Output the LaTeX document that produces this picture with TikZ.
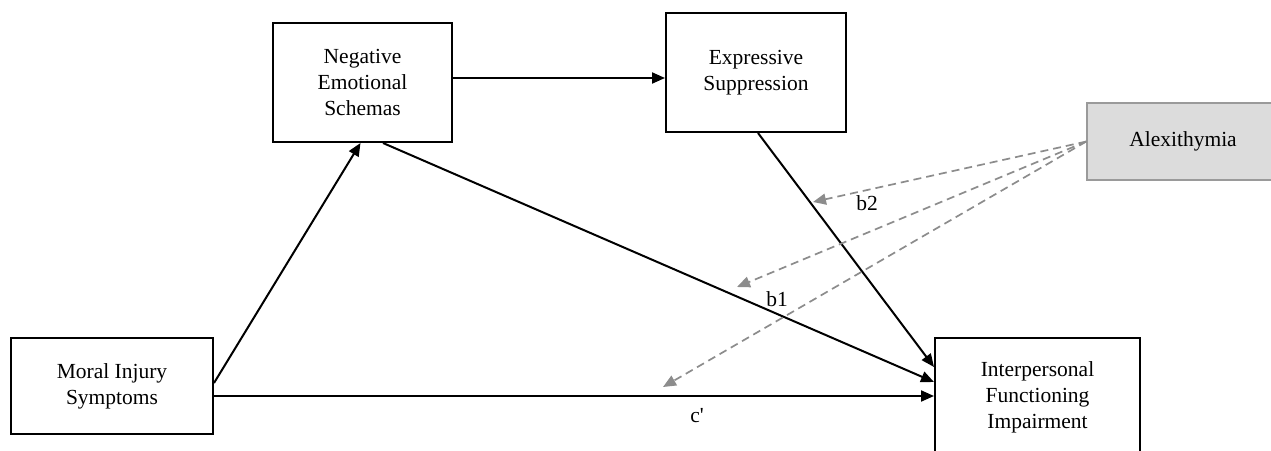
\documentclass[tikz,border=0pt]{standalone}
\usepackage{fontspec}
\setmainfont{Liberation Serif}
\usetikzlibrary{arrows.meta,calc}
\definecolor{altfill}{HTML}{DCDCDC}
\definecolor{altdraw}{HTML}{9A9A9A}
\definecolor{dashgray}{HTML}{8C8C8C}
\begin{document}
\begin{tikzpicture}[x=1pt,y=-1pt,
  box/.style={draw=black,line width=2pt,fill=white,inner sep=0pt,align=center,
    font=\fontsize{21.5}{26}\selectfont},
  arr/.style={line width=2pt,-{Triangle[length=13pt,width=11pt]}},
  modarr/.style={draw=dashgray,line width=1.7pt,dash pattern=on 8pt off 5pt,
    -{Triangle[length=13pt,width=11pt,fill=dashgray]}},
  lab/.style={font=\fontsize{21.5}{26}\selectfont,inner sep=0pt}]
\useasboundingbox (0,0) rectangle (1271,450);
\clip (0,0) rectangle (1271,450);
\node[box,minimum width=179pt,minimum height=119pt] (nes) at (362.5,82.5) {Negative\\Emotional\\Schemas};
\node[box,minimum width=180pt,minimum height=119pt] (es) at (756,72.5) {Expressive\\Suppression};
\node[box,minimum width=202pt,minimum height=96pt] (mi) at (112,386) {Moral Injury\\Symptoms};
\node[box,minimum width=205pt,minimum height=118pt] (ifi) at (1037.5,397) {Interpersonal\\Functioning\\Impairment};
\node[box,draw=altdraw,fill=altfill,line width=1.4pt,minimum width=192pt,minimum height=77pt] (alx) at (1183,141.5) {Alexithymia};
% solid paths
\draw[arr] (nes.east |- 0,78) -- (es.west |- 0,78);
\draw[arr] ($(mi.east)+(0,-3)$) -- ($(nes.south)+(-2,0)$);
\draw[arr] ($(nes.south)+(20.5,0)$) -- ($(ifi.west)+(0,-15)$);
\draw[arr] ($(es.south)+(2,0)$) -- ($(ifi.west)+(0,-30)$);
\draw[arr] ($(mi.east)+(0,10)$) -- ($(ifi.west)+(0,-1)$);
% moderation paths
\coordinate (tb2) at (813,202);
\coordinate (tb1) at (737,287);
\coordinate (tc) at (663,387);
\draw[modarr] (alx.west) -- (tb2);
\draw[modarr] (alx.west) -- (tb1);
\draw[modarr] (alx.west) -- (tc);
\node[lab] (lb2) at (867,203) {b2};
\node[lab] (lb1) at (777,299) {b1};
\node[lab] (lc) at (697,416) {c\textquotesingle};
\end{tikzpicture}
\end{document}
